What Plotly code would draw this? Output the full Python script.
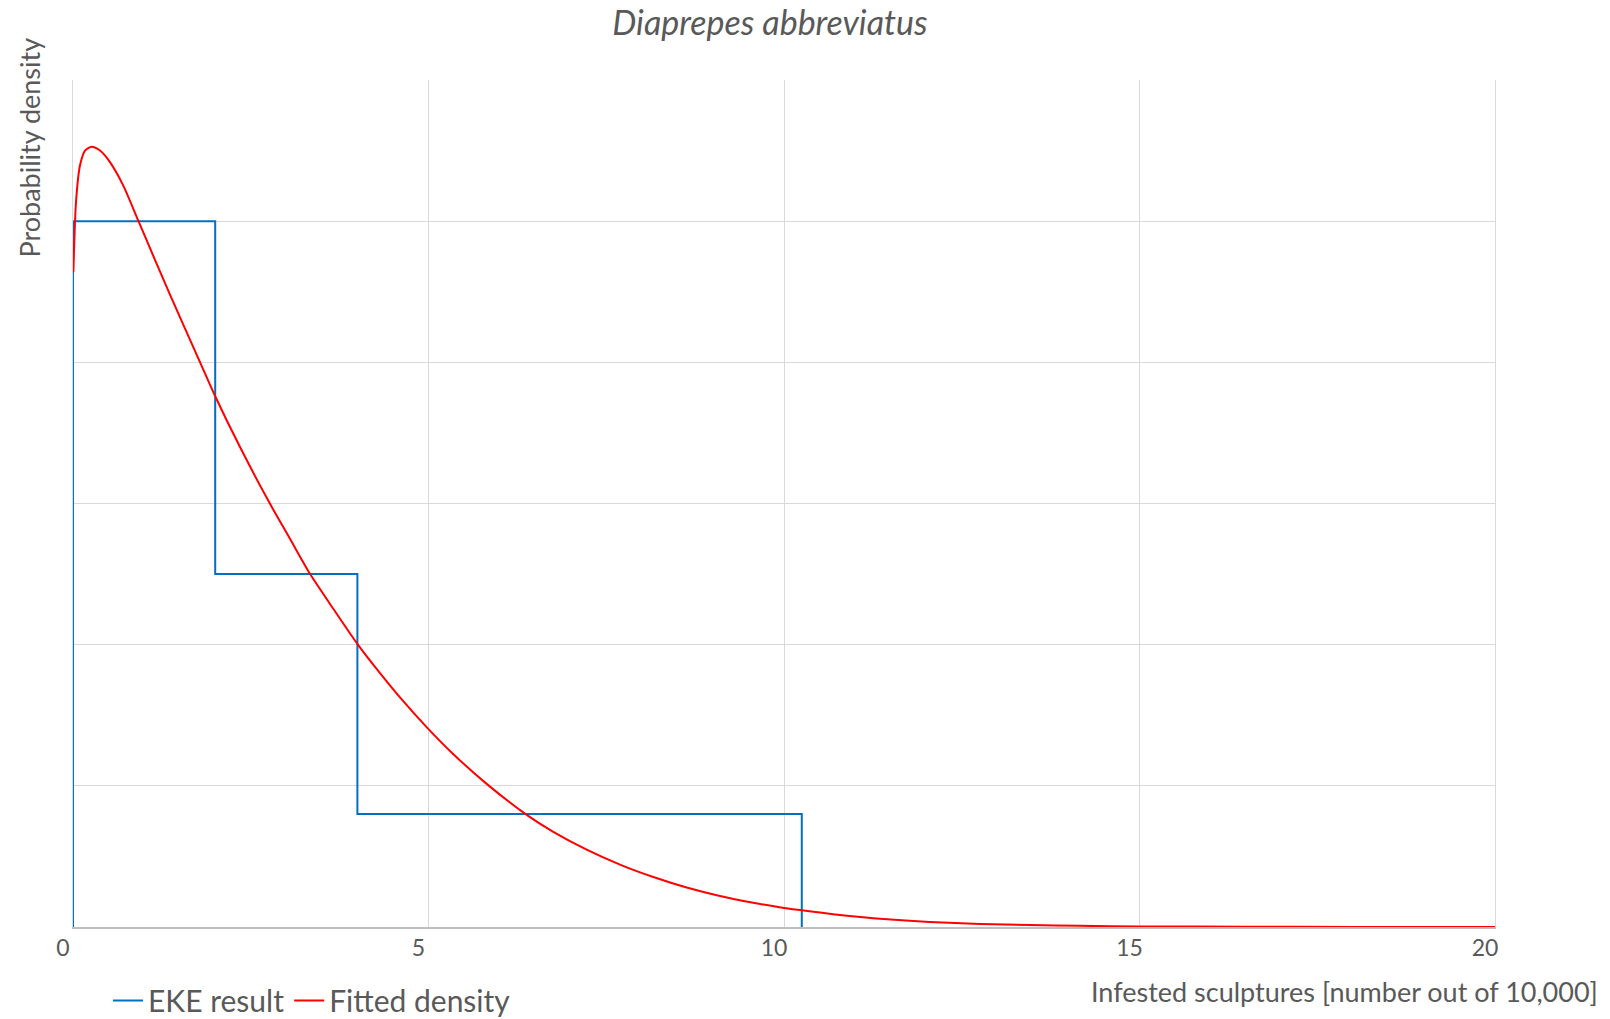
import plotly.graph_objects as go

# EKE result: histogram bin edges and densities
eke_edges = [0, 2, 4, 10.25]
eke_density = [0.25, 0.125, 0.04]

# Fitted density curve
fit_x = [0.005, 0.042, 0.098, 0.169, 0.263, 0.38, 0.52, 0.707, 0.918, 1.15, 1.364,
         1.786, 2.0, 2.349, 2.771, 3.052, 3.333, 3.661, 4.004, 4.318, 4.599, 4.97,
         5.35, 5.818, 6.381, 6.755, 7.225, 7.693, 8.162, 8.631, 9.1, 9.568, 10.004,
         10.253, 10.506, 10.92, 11.35, 12.05, 12.76, 13.46, 14.16, 15.0, 16.5, 18.0, 20.0]
fit_y = [0.2319, 0.2567, 0.2697, 0.2750, 0.2764, 0.2750, 0.2709, 0.2626, 0.2502,
         0.2365, 0.2240, 0.2001, 0.1880, 0.1700, 0.1499, 0.1375, 0.1251, 0.1127,
         0.1001, 0.0899, 0.0813, 0.0709, 0.0612, 0.0507, 0.0397, 0.0337, 0.0274,
         0.0221, 0.0177, 0.0140, 0.0110, 0.0086, 0.0067, 0.0059, 0.0051, 0.0039,
         0.0029, 0.0018, 0.0011, 0.0007, 0.0004, 0.0002, 0.0001, 0.00003, 0.00001]

x_ticks = [0, 5, 10, 15, 20]

title_text = "Diaprepes abbreviatus"
x_title = "Infested sculptures [number out of 10,000]"
y_title = "Probability density"

FONT = "Lato"
TXT = "#595959"

# step outline: start at baseline, step through densities, back to baseline
step_x = [eke_edges[0]] + eke_edges
step_y = [0] + eke_density + [0]

fig = go.Figure()
fig.add_trace(go.Scatter(x=step_x, y=step_y, mode="lines", line_shape="hv",
                         name="EKE result", line=dict(color="#0070C0", width=2)))
fig.add_trace(go.Scatter(x=fit_x, y=fit_y, mode="lines", line_shape="spline",
                         name="Fitted density", line=dict(color="#FF0000", width=2, smoothing=0.7)))

W, H = 1610, 1019
L, R, T, B = 73, 1495, 80, 927.5

def px2x(p):
    return (p - L) / (R - L)

def py2y(p):
    return (B - p) / (B - T)

fig.update_layout(
    width=W, height=H,
    margin=dict(l=L, r=W - R, t=T, b=H - B, pad=0, autoexpand=False),
    paper_bgcolor="white", plot_bgcolor="white",
    font=dict(family=FONT, color=TXT, size=23),
    title=dict(text=f"<i>{title_text}</i>", x=770 / W, xanchor="center",
               y=1 - 23 / H, yanchor="middle", font=dict(size=34, color=TXT, family=FONT)),
    showlegend=True,
    legend=dict(orientation="h", x=px2x(108), xanchor="left", y=py2y(1001), yanchor="middle",
                font=dict(size=30, color=TXT, family=FONT), bgcolor="rgba(0,0,0,0)",
                itemclick=False),
    xaxis=dict(range=[0, 20], tickvals=x_ticks, ticktext=[str(v) for v in x_ticks],
               showgrid=True, gridcolor="#d9d9d9", gridwidth=1.3,
               zeroline=False, showline=True, linecolor="#bfbfbf", linewidth=1.5,
               ticks="", ticklabelshift=-10, ticklabelstandoff=0,
               tickfont=dict(size=23, color=TXT, family=FONT), fixedrange=True),
    yaxis=dict(range=[0, 0.3], dtick=0.05, showticklabels=False,
               showgrid=True, gridcolor="#d9d9d9", gridwidth=1.3,
               zeroline=False, showline=True, mirror=True, linecolor="#d9d9d9", linewidth=1.3,
               ticks="", fixedrange=True),
    annotations=[
        dict(text=y_title, textangle=-90, xref="paper", yref="paper",
             x=px2x(29), y=py2y(147.5), xanchor="center", yanchor="middle",
             showarrow=False, font=dict(size=27, color=TXT, family=FONT)),
        dict(text=x_title, xref="paper", yref="paper",
             x=px2x(1600), y=py2y(992), xanchor="right", yanchor="middle",
             showarrow=False, font=dict(size=27, color=TXT, family=FONT)),
    ],
)

fig.write_html("out.html")
